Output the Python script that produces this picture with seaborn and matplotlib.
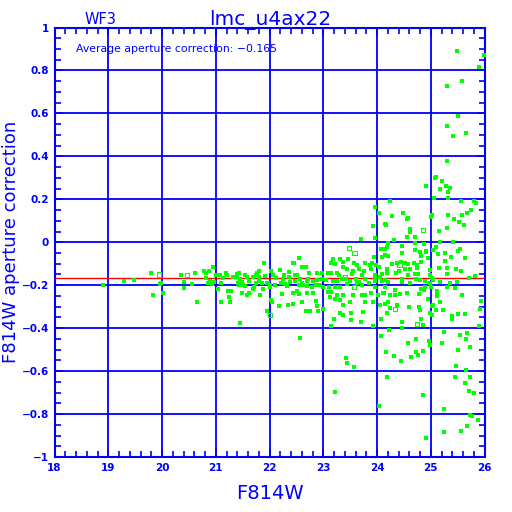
import matplotlib
matplotlib.use("Agg")
import matplotlib.pyplot as plt
import seaborn as sns
import numpy as np
import pandas as pd
from matplotlib.ticker import MultipleLocator, FuncFormatter

# ---------------- data ----------------
title = "lmc_u4ax22"
chip = "WF3"
x_label = "F814W"
y_label = "F814W aperture correction"
avg_corr = -0.165
x_ticks = [18, 19, 20, 21, 22, 23, 24, 25, 26]
y_ticks = [-1, -0.8, -0.6, -0.4, -0.2, 0, 0.2, 0.4, 0.6, 0.8, 1]

mag_bright = [18.90, 19.29, 19.48, 19.79, 19.83, 19.97, 19.99, 20.02, 20.35, 20.40, 20.41, 20.56, 20.61,
              20.66, 20.78, 20.82, 20.87, 20.82, 20.86]
corr_bright = [-0.20, -0.18, -0.175, -0.143, -0.245, -0.195, -0.19, -0.235, -0.153, -0.184, -0.215, -0.195,
               -0.143, -0.28, -0.134, -0.145, -0.132, -0.168, -0.188]

mag_mid = [20.95, 20.89, 20.93, 20.97, 21.00, 21.08, 21.09, 21.04, 21.19, 21.20, 21.14, 21.22, 21.28, 21.24,
           21.27, 21.10, 21.33, 21.39, 21.40, 21.43, 21.45, 21.41, 21.44, 21.49, 21.54, 21.58, 21.61, 21.51,
           21.55, 21.49, 21.58, 21.61, 21.45, 21.70, 21.75, 21.77, 21.81, 21.80, 21.80, 21.74, 21.71, 21.69,
           21.86, 21.90, 21.88, 21.82, 21.92, 21.95, 21.98, 22.01, 22.01, 22.03, 22.06, 22.02, 22.05, 21.95,
           22.12, 22.10, 22.18, 22.20, 22.25, 22.22, 22.27, 22.29, 22.32, 22.23, 22.34, 22.37, 22.37, 22.39,
           22.43, 22.46, 22.47, 22.48, 22.51, 22.54, 22.54, 22.55, 22.57, 22.44, 22.60, 22.68, 22.60, 22.63,
           22.60, 22.68, 22.70, 22.72, 22.57, 22.73, 22.51, 22.44]
corr_mid = [-0.114, -0.18, -0.193, -0.184, -0.151, -0.154, -0.19, -0.216, -0.142, -0.154, -0.166, -0.225,
            -0.225, -0.256, -0.277, -0.28, -0.163, -0.148, -0.16, -0.142, -0.17, -0.188, -0.198, -0.185,
            -0.151, -0.163, -0.179, -0.20, -0.204, -0.235, -0.244, -0.235, -0.375, -0.16, -0.151, -0.142,
            -0.132, -0.163, -0.182, -0.188, -0.21, -0.216, -0.188, -0.095, -0.216, -0.244, -0.157, -0.19,
            -0.188, -0.198, -0.21, -0.132, -0.151, -0.269, -0.278, -0.319, -0.166, -0.198, -0.297, -0.129,
            -0.17, -0.188, -0.151, -0.195, -0.204, -0.241, -0.294, -0.138, -0.16, -0.185, -0.235, -0.098,
            -0.151, -0.179, -0.225, -0.073, -0.198, -0.241, -0.17, -0.288, -0.114, -0.114, -0.188, -0.198,
            -0.28, -0.319, -0.235, -0.17, -0.446, -0.142, -0.154, -0.095]

mag_faint = [23.96, 24.03, 23.92, 24.14, 24.17, 23.96, 23.70, 24.20, 24.07, 24.14, 24.19, 23.94, 24.09, 24.14,
             23.19, 23.32, 23.37, 23.46, 23.57, 23.14, 23.22, 23.36, 23.44, 23.55, 23.62, 23.66, 23.78, 23.87,
             23.91, 23.98, 24.03, 23.88, 23.76, 22.89, 22.98, 23.09, 23.15, 23.25, 23.30, 23.54, 23.72, 23.97,
             24.09, 24.19, 22.69, 22.81, 22.89, 22.98, 23.06, 23.19, 23.26, 23.34, 23.41, 23.50, 23.60, 23.67,
             23.78, 23.85, 23.96, 23.97, 24.05, 24.15, 24.20, 22.70, 22.87, 22.94, 23.44, 23.63, 23.72, 22.79,
             23.10, 23.31, 23.22, 23.00, 23.96, 24.15, 22.80, 23.09, 23.15, 23.26, 23.36, 23.56, 23.72, 23.77,
             23.88, 24.02, 24.12, 23.13, 23.21, 23.32, 22.87, 23.37, 23.50, 23.77, 23.92, 24.05, 24.20, 22.88,
             23.00, 22.75, 22.91, 23.31, 23.37, 23.51, 23.74, 24.19, 23.20, 23.52, 23.70, 23.92, 23.14, 24.07,
             24.22, 24.17, 23.42, 23.44, 23.57, 24.19, 23.21, 24.04]
corr_faint = [0.163, 0.135, 0.077, 0.085, 0.079, 0.02, 0.017, -0.002, -0.03, -0.03, -0.021, -0.067, -0.067,
              -0.061, -0.077, -0.077, -0.092, -0.077, -0.095, -0.098, -0.101, -0.114, -0.123, -0.132, -0.107,
              -0.123, -0.098, -0.107, -0.095, -0.107, -0.114, -0.126, -0.132, -0.142, -0.145, -0.145, -0.145,
              -0.142, -0.151, -0.148, -0.154, -0.151, -0.148, -0.145, -0.182, -0.182, -0.176, -0.17, -0.176,
              -0.182, -0.182, -0.17, -0.173, -0.182, -0.17, -0.185, -0.17, -0.188, -0.16, -0.182, -0.16,
              -0.176, -0.185, -0.204, -0.20, -0.20, -0.195, -0.191, -0.198, -0.21, -0.21, -0.21, -0.21, -0.21,
              -0.21, -0.21, -0.235, -0.232, -0.232, -0.247, -0.244, -0.244, -0.244, -0.244, -0.235, -0.247,
              -0.238, -0.253, -0.262, -0.269, -0.272, -0.291, -0.28, -0.278, -0.278, -0.291, -0.28, -0.297,
              -0.309, -0.321, -0.321, -0.328, -0.34, -0.328, -0.325, -0.331, -0.359, -0.362, -0.371, -0.39,
              -0.39, -0.437, -0.409, -0.511, -0.539, -0.561, -0.579, -0.626, -0.697, -0.763]

mag_f24 = [24.24, 24.48, 24.28, 24.55, 24.58, 25.02, 25.01, 24.61, 25.16, 24.61, 24.55, 24.70, 24.32, 24.71,
           24.87, 24.46, 24.70, 24.80, 24.92, 25.04, 24.91, 25.14, 24.46, 24.20, 24.82, 24.94, 24.27, 24.37,
           24.45, 24.53, 24.58, 24.68, 24.75, 24.81, 24.19, 24.40, 24.53, 24.61, 24.75, 24.99, 25.15, 24.35,
           24.58, 24.71, 24.76, 24.99, 24.09, 24.46, 24.46, 24.61, 24.73, 24.80, 24.89, 24.99, 25.02, 25.05,
           24.90, 24.33, 24.81, 24.87, 25.01, 25.11, 24.13, 24.25, 24.34, 24.42, 24.55, 24.79, 25.12, 24.94,
           24.14, 24.38, 24.60, 24.78, 25.02, 24.24, 24.80, 25.10, 24.99, 25.02, 24.07, 24.81, 24.46, 24.86,
           24.46, 24.73, 24.96, 24.99, 24.58, 24.73, 24.85, 24.76, 24.32, 24.64, 24.44, 24.85, 24.92]
corr_f24 = [0.193, 0.135, 0.122, 0.11, 0.113, 0.128, 0.119, 0.06, 0.054, 0.048, 0.026, 0.026, 0.01, -0.002,
            -0.008, -0.018, -0.036, -0.045, -0.039, -0.036, -0.045, -0.055, -0.052, -0.064, -0.064, -0.073,
            -0.101, -0.095, -0.092, -0.095, -0.101, -0.095, -0.104, -0.092, -0.123, -0.135, -0.123, -0.126,
            -0.12, -0.129, -0.12, -0.142, -0.151, -0.148, -0.148, -0.151, -0.179, -0.17, -0.185, -0.188,
            -0.173, -0.176, -0.179, -0.19, -0.166, -0.176, -0.207, -0.222, -0.216, -0.222, -0.21, -0.228,
            -0.235, -0.247, -0.247, -0.241, -0.235, -0.241, -0.247, -0.262, -0.288, -0.291, -0.30, -0.30,
            -0.297, -0.306, -0.315, -0.315, -0.328, -0.337, -0.359, -0.356, -0.371, -0.387, -0.399, -0.449,
            -0.458, -0.477, -0.468, -0.511, -0.505, -0.526, -0.53, -0.533, -0.551, -0.71, -0.912]

mag_f25 = [25.48, 25.99, 25.89, 25.58, 25.30, 25.51, 25.30, 25.66, 25.41, 25.30, 24.92, 25.07, 25.10, 25.21,
           25.17, 25.28, 25.36, 25.33, 25.06, 25.32, 25.57, 25.80, 25.85, 25.32, 25.59, 25.67, 25.74, 25.43,
           25.53, 25.62, 25.30, 25.18, 25.41, 25.54, 25.51, 25.63, 25.10, 25.26, 25.37, 25.26, 25.30, 25.47,
           25.57, 25.30, 25.82, 25.71, 25.18, 25.36, 25.48, 25.31, 25.45, 25.11, 25.58, 25.93, 25.17, 25.04,
           25.92, 25.22, 25.40, 25.40, 25.51, 25.64, 25.89, 25.24, 25.54, 25.67, 25.21, 25.66, 25.73, 25.51,
           25.47, 25.66, 25.45, 25.73, 25.63, 25.71, 25.80, 25.25, 25.73, 25.77, 25.88, 25.67, 25.25, 25.56]
corr_f25 = [0.892, 0.871, 0.818, 0.752, 0.728, 0.588, 0.541, 0.51, 0.495, 0.377, 0.262, 0.299, 0.302, 0.287,
            0.249, 0.262, 0.253, 0.234, 0.206, 0.206, 0.193, 0.193, 0.184, 0.128, 0.128, 0.135, 0.15, 0.11,
            0.095, 0.082, 0.066, 0.001, 0.001, -0.03, -0.043, -0.073, -0.021, -0.049, -0.067, -0.086, -0.12,
            -0.123, -0.132, -0.148, -0.157, -0.166, -0.185, -0.19, -0.185, -0.207, -0.213, -0.25, -0.244,
            -0.272, -0.28, -0.293, -0.309, -0.315, -0.343, -0.356, -0.334, -0.334, -0.39, -0.418, -0.43,
            -0.424, -0.471, -0.452, -0.486, -0.502, -0.576, -0.595, -0.629, -0.626, -0.654, -0.691, -0.701,
            -0.775, -0.803, -0.809, -0.828, -0.856, -0.884, -0.877]

mag_open = [19.95, 20.47, 22.01, 23.48, 23.58, 23.41, 23.57, 24.42, 24.86, 24.34, 24.75]
corr_open = [-0.15, -0.154, -0.34, -0.028, -0.05, -0.16, -0.207, -0.107, 0.057, -0.312, -0.382]

# ---------------- plotting ----------------
sns.set_theme(style="white")
plt.rcParams['font.family'] = ['DejaVu Sans']

BLUE = "#0000ff"
GREEN = "#00ff00"

df = pd.DataFrame({
    "mag": mag_bright + mag_mid + mag_faint + mag_f24 + mag_f25,
    "corr": corr_bright + corr_mid + corr_faint + corr_f24 + corr_f25,
})
df_open = pd.DataFrame({"mag": mag_open, "corr": corr_open})

fig = plt.figure(figsize=(5.12, 5.12), dpi=100)
fig.patch.set_facecolor("white")
ax = fig.add_axes([54.5 / 512, 1 - 457 / 512, 430 / 512, 429.5 / 512])
ax.set_facecolor("white")

ax.set_xlim(18, 26)
ax.set_ylim(-1, 1)

# grid
ax.set_xticks(x_ticks)
ax.set_yticks(y_ticks)
ax.grid(True, which="major", color=BLUE, linewidth=1.3)
ax.set_axisbelow(True)

ax.axhline(avg_corr, color="#ff0000", linewidth=1.0, zorder=1.5)

sns.scatterplot(data=df, x="mag", y="corr", ax=ax, marker="s", s=5, color=GREEN,
                linewidth=0, zorder=3, legend=False)
sns.scatterplot(data=df_open, x="mag", y="corr", ax=ax, marker="s", s=9,
                facecolor="none", edgecolor=GREEN, linewidth=0.8, zorder=3, legend=False)

for sp in ax.spines.values():
    sp.set_color(BLUE)
    sp.set_linewidth(1.5)
    sp.set_visible(True)

ax.xaxis.set_minor_locator(MultipleLocator(0.2))
ax.yaxis.set_minor_locator(MultipleLocator(0.05))
ax.tick_params(which="both", direction="in", top=True, right=True, bottom=True, left=True,
               colors=BLUE, width=1.2)
ax.tick_params(which="major", length=6, pad=4, labelsize=7.5)
ax.tick_params(which="minor", length=4)


def yfmt(v, pos):
    v = round(v, 1)
    if abs(v) < 1e-9:
        return "0"
    return f"{v:g}".replace("-", "\u2212")


ax.yaxis.set_major_formatter(FuncFormatter(yfmt))
ax.xaxis.set_major_formatter(FuncFormatter(lambda v, p: f"{int(round(v))}"))
for lab in ax.get_xticklabels() + ax.get_yticklabels():
    lab.set_fontweight("bold")
    lab.set_color(BLUE)

ax.set_xlabel(x_label, color=BLUE, fontsize=14, labelpad=8)
ax.set_ylabel("")
fig.text(11 / 512, 1 - 242 / 512, y_label, color=BLUE, fontsize=13, rotation=90,
         ha="center", va="center")

fig.text(270 / 512, 1 - 24.5 / 512, title, color=BLUE, fontsize=14.5, ha="center", va="baseline")
fig.text(100 / 512, 1 - 24.5 / 512, chip, color=BLUE, fontsize=10.5, ha="center", va="baseline")
ax.text(18.4, 0.884, f"Average aperture correction: {avg_corr:g}".replace("-", "\u2212"),
        color=BLUE, fontsize=7.8, ha="left", va="baseline")

fig.savefig("out.png", dpi=100, facecolor="white")
